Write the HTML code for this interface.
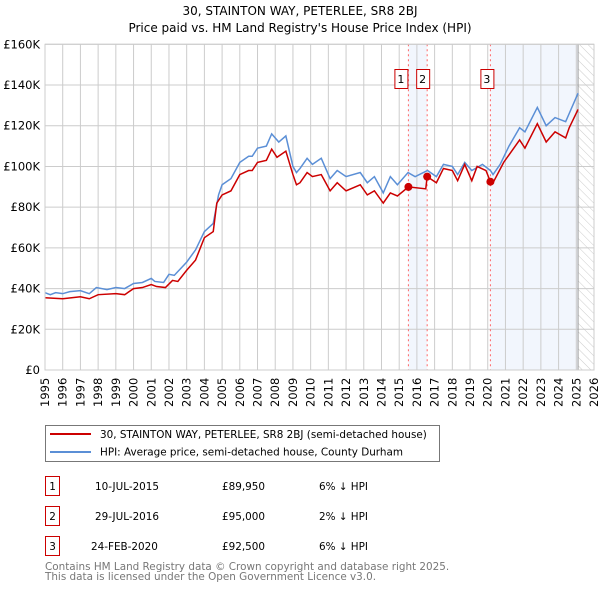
<!DOCTYPE html>
<html><head><meta charset="utf-8"><style>
body{margin:0;background:#fff;font-family:"Liberation Sans","DejaVu Sans",sans-serif;}
svg text{font-family:"DejaVu Sans","Liberation Sans",sans-serif;}
</style></head><body>
<svg id="c" width="600" height="590" xmlns="http://www.w3.org/2000/svg">
<defs><pattern id="hatch" width="6" height="6" patternUnits="userSpaceOnUse" patternTransform="rotate(-45)"><line x1="0" y1="0" x2="0" y2="6" stroke="#ccc" stroke-width="1"/></pattern></defs>
<text x="300" y="15" text-anchor="middle" font-size="12">30, STAINTON WAY, PETERLEE, SR8 2BJ</text>
<text x="300" y="32" text-anchor="middle" font-size="12">Price paid vs. HM Land Registry's House Price Index (HPI)</text>
<g id="plot"></g>
<g>
<rect x="45.5" y="425.5" width="394" height="36" fill="#fff" stroke="#777"/>
<line x1="50" y1="434" x2="91" y2="434" stroke="#cc0000" stroke-width="2"/>
<text x="100" y="438" font-size="10.4">30, STAINTON WAY, PETERLEE, SR8 2BJ (semi-detached house)</text>
<line x1="50" y1="452" x2="91" y2="452" stroke="#5b8fd6" stroke-width="2"/>
<text x="100" y="455.5" font-size="10.4">HPI: Average price, semi-detached house, County Durham</text>
</g>
<g font-size="10.4">
<rect x="45.5" y="476.5" width="14" height="19" fill="none" stroke="#cc0000"/><text x="52.5" y="490" text-anchor="middle">1</text>
<text x="95" y="490">10-JUL-2015</text><text x="222" y="490">£89,950</text><text x="319" y="490">6% ↓ HPI</text>
<rect x="45.5" y="506.5" width="14" height="19" fill="none" stroke="#cc0000"/><text x="52.5" y="520" text-anchor="middle">2</text>
<text x="95" y="520">29-JUL-2016</text><text x="222" y="520">£95,000</text><text x="319" y="520">2% ↓ HPI</text>
<rect x="45.5" y="536.5" width="14" height="19" fill="none" stroke="#cc0000"/><text x="52.5" y="550" text-anchor="middle">3</text>
<text x="91" y="550">24-FEB-2020</text><text x="222" y="550">£92,500</text><text x="319" y="550">6% ↓ HPI</text>
</g>
<text x="45" y="570" font-size="10.4" fill="#777">Contains HM Land Registry data © Crown copyright and database right 2025.</text>
<text x="45" y="580" font-size="10.4" fill="#777">This data is licensed under the Open Government Licence v3.0.</text>
</svg>
<script>
const hpiYears=[1995,1995.3,1995.6,1996,1996.4,1997,1997.5,1997.9,1998.5,1999,1999.5,2000,2000.5,2001,2001.2,2001.7,2002,2002.3,2003,2003.5,2004,2004.5,2004.8,2005,2005.5,2006,2006.5,2006.7,2007,2007.5,2007.8,2008.2,2008.6,2009.0,2009.2,2009.4,2009.8,2010.1,2010.6,2011.1,2011.5,2012.0,2012.8,2013.2,2013.6,2014.1,2014.5,2014.9,2015.5,2015.9,2016.6,2017.1,2017.5,2018.0,2018.3,2018.7,2019.1,2019.7,2020.15,2020.3,2020.7,2021.2,2021.8,2022.1,2022.8,2023.3,2023.8,2024.4,2024.6,2025.1];
const hpiValues=[38,37,38,37.5,38.5,39,37.5,40.5,39.5,40.5,40,42.5,43,45,43.5,43,47,46.5,53,59,68,72,86,91,94,102,105,105,109,110,116,112,115,100,97,99,104,101,104,94,98,95,97,92,95,87,95,91,97,95,98,95,101,100,96,102,98,101,98,96,101,110,119,117,129,120,124,122,126,136];
const priceYears=[1995,1996,1997,1997.5,1998,1999,1999.5,2000,2000.5,2001,2001.3,2001.8,2002.2,2002.5,2003,2003.5,2004,2004.5,2004.7,2005.0,2005.5,2006,2006.5,2006.7,2007,2007.5,2007.8,2008.1,2008.6,2009.0,2009.2,2009.4,2009.8,2010.1,2010.6,2011.1,2011.5,2012.0,2012.8,2013.2,2013.6,2014.1,2014.5,2014.9,2015.52,2016.5,2016.58,2017.1,2017.5,2018.0,2018.3,2018.7,2019.1,2019.4,2019.9,2020.15,2020.3,2020.9,2021.8,2022.1,2022.8,2023.3,2023.8,2024.4,2024.6,2025.1];
const priceValues=[35.5,35,36,35,37,37.5,37,40,40.5,42,41,40.5,44,43.5,49,54,65,68,82,86,88,96,98,98,102,103,108.5,104.5,107.5,96,91,92,97,95,96,88,92,88,91,86,88,82,87,85.5,89.95,89,95,92,99,98,93,101,93,100,98,92.5,92,102,113,109,121,112,117,114,119,128];
const saleYears=[2015.52,2016.58,2020.15];
const saleValues=[89.95,95,92.5];
const saleLabels=["1","2","3"];
const yTicks=[0,20,40,60,80,100,120,140,160];
const yTickLabels=["£0","£20K","£40K","£60K","£80K","£100K","£120K","£140K","£160K"];
const xTicks=[1995,1996,1997,1998,1999,2000,2001,2002,2003,2004,2005,2006,2007,2008,2009,2010,2011,2012,2013,2014,2015,2016,2017,2018,2019,2020,2021,2022,2023,2024,2025,2026];

const NS="http://www.w3.org/2000/svg";
const L=45,R=594,T=44.3,B=370;
const X=y=>L+(y-1995)/(2026-1995)*(R-L);
const Y=v=>B-v/160*(B-T);
const g=document.getElementById('plot');
function mk(t,a){const e=document.createElementNS(NS,t);for(const k in a)e.setAttribute(k,a[k]);g.appendChild(e);return e;}
let e;
e=mk('rect',{x:X(saleYears[0]),y:T,width:X(saleYears[1])-X(saleYears[0]),height:B-T,fill:'#f2f6fd'});


e=mk('rect',{x:X(saleYears[2]),y:T,width:X(2025.1)-X(saleYears[2]),height:B-T,fill:'#f2f6fd'});


e=mk('rect',{x:X(2025.1),y:T,width:R-X(2025.1),height:B-T,fill:'url(#hatch)'});


xTicks.forEach(t=>{
 e=mk('line',{x1:X(t),x2:X(t),y1:T,y2:B,stroke:'#cccccc','stroke-width':1});
 
 
 e=mk('text',{x:0,y:0,'font-size':11.5,transform:`translate(${X(t)+4},${B+37}) rotate(-90)`});
 e.textContent=t;
 
 
});
yTicks.forEach((t,i)=>{
 e=mk('line',{x1:L,x2:R,y1:Y(t),y2:Y(t),stroke:'#cccccc','stroke-width':1});
 
 
 e=mk('text',{x:40,y:Y(t)+4,'text-anchor':'end','font-size':11.5});
 e.textContent=yTickLabels[i];
 
 
});
e=mk('line',{x1:X(2025.1),x2:X(2025.1),y1:T,y2:B,stroke:'#999','stroke-width':1});


saleYears.forEach((s,i)=>{
 e=mk('line',{x1:X(s),x2:X(s),y1:T,y2:B,stroke:'#ff6666','stroke-width':1,'stroke-dasharray':'2,3'});
 
 
});
e=mk('polyline',{points:hpiYears.map((y,i)=>X(y)+','+Y(hpiValues[i])).join(' '),fill:'none',stroke:'#5b8fd6','stroke-width':1.5});


e=mk('polyline',{points:priceYears.map((y,i)=>X(y)+','+Y(priceValues[i])).join(' '),fill:'none',stroke:'#cc0000','stroke-width':1.5});


saleYears.forEach((s,i)=>{
 e=mk('circle',{cx:X(s),cy:Y(saleValues[i]),r:4,fill:'#cc0000'});
 
 
 e=mk('rect',{x:[X(s)-14,X(s)-11,X(s)-10][i]+0.5,y:69.5,width:13,height:19,fill:'#fff',stroke:'#cc0000'});
 
 
 e=mk('text',{x:[X(s)-7.5,X(s)-4.5,X(s)-3.5][i],y:83,'text-anchor':'middle','font-size':11});
 e.textContent=saleLabels[i];
 
 
});
e=mk('rect',{x:L,y:T,width:R-L,height:B-T,fill:'none',stroke:'#cccccc'});


</script>
</body></html>
